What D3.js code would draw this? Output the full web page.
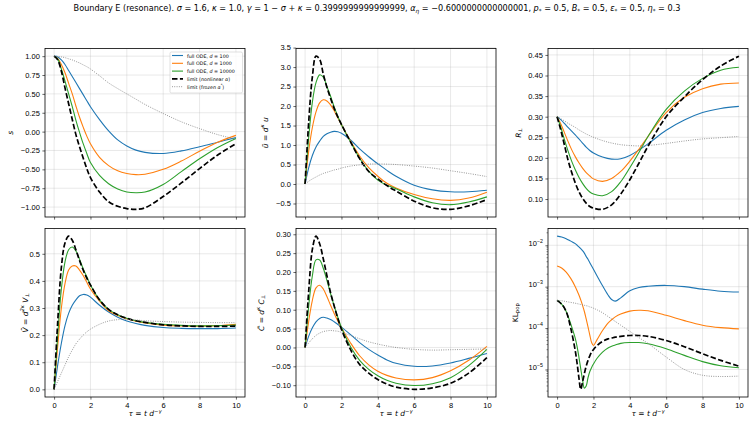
<!DOCTYPE html>
<html>
<head>
<meta charset="utf-8">
<script src="https://cdn.jsdelivr.net/npm/d3@7"></script>
<style>
  body { margin: 0; background: #fff; }
  svg { display: block; font-family: "DejaVu Sans", sans-serif; }
</style>
</head>
<body>
<svg id="chart" width="754" height="426"></svg>
<script>
// time grids
const TAU = [0, 0.2, 0.4, 0.6, 0.8, 1, 1.2, 1.4, 1.6, 1.8, 2, 2.5, 3, 3.5, 4, 4.5, 5, 6, 7, 8, 9, 10];
const TAU_KL = [0, 0.25, 0.5, 0.75, 1, 1.1, 1.2, 1.3, 1.4, 1.5, 1.6, 1.7, 1.8, 1.9, 2, 2.2, 2.5, 2.8, 3, 3.2, 3.5, 4, 4.5, 5, 6, 7, 8, 9, 10];

const SERIES_LABELS = ["d100", "d1000", "d10000", "nonlinear", "frozen"];

// s
const S_D100   = [1.0, 0.99, 0.95, 0.89, 0.81, 0.73, 0.65, 0.57, 0.49, 0.41, 0.33, 0.16, 0.01, -0.11, -0.19, -0.245, -0.275, -0.29, -0.255, -0.2, -0.14, -0.08];
const S_D1000  = [1.0, 0.97, 0.89, 0.78, 0.64, 0.5, 0.34, 0.19, 0.06, -0.06, -0.16, -0.34, -0.45, -0.52, -0.555, -0.57, -0.565, -0.5, -0.39, -0.26, -0.14, -0.05];
const S_D10000 = [1.0, 0.96, 0.83, 0.67, 0.5, 0.33, 0.15, -0.01, -0.16, -0.29, -0.41, -0.58, -0.69, -0.76, -0.8, -0.81, -0.8, -0.7, -0.53, -0.36, -0.21, -0.09];
const S_NONLIN = [1.0, 0.95, 0.8, 0.58, 0.37, 0.16, -0.04, -0.2, -0.35, -0.49, -0.61, -0.8, -0.93, -0.99, -1.02, -1.03, -1.01, -0.86, -0.68, -0.49, -0.31, -0.16];
const S_FROZEN = [1.0, 0.998, 0.99, 0.98, 0.965, 0.95, 0.93, 0.91, 0.885, 0.86, 0.83, 0.74, 0.645, 0.57, 0.5, 0.43, 0.36, 0.24, 0.13, 0.04, -0.04, -0.1];

// u tilde
const U_D100   = [0, 0.42, 0.73, 0.95, 1.1, 1.22, 1.29, 1.33, 1.35, 1.34, 1.3, 1.13, 0.9, 0.7, 0.52, 0.35, 0.2, -0.03, -0.15, -0.2, -0.2, -0.16];
const U_D1000  = [0, 0.85, 1.45, 1.85, 2.08, 2.16, 2.13, 2.03, 1.88, 1.7, 1.52, 1.1, 0.72, 0.42, 0.2, 0.02, -0.1, -0.27, -0.38, -0.42, -0.36, -0.21];
const U_D10000 = [0, 1.2, 2.1, 2.6, 2.8, 2.74, 2.5, 2.25, 1.98, 1.74, 1.52, 1.08, 0.66, 0.33, 0.1, -0.03, -0.12, -0.33, -0.48, -0.53, -0.46, -0.33];
const U_NONLIN = [0, 1.6, 2.75, 3.28, 3.2, 2.82, 2.48, 2.2, 1.94, 1.72, 1.53, 1.08, 0.65, 0.32, 0.13, -0.04, -0.18, -0.44, -0.61, -0.65, -0.56, -0.4];
const U_FROZEN = [0, 0.07, 0.13, 0.18, 0.23, 0.27, 0.3, 0.33, 0.36, 0.38, 0.41, 0.46, 0.49, 0.51, 0.515, 0.51, 0.5, 0.46, 0.41, 0.34, 0.27, 0.19];

// R perp
const R_D100   = [0.3, 0.293, 0.284, 0.274, 0.265, 0.256, 0.246, 0.236, 0.226, 0.218, 0.212, 0.202, 0.197, 0.198, 0.206, 0.219, 0.234, 0.267, 0.292, 0.31, 0.32, 0.325];
const R_D1000  = [0.3, 0.283, 0.262, 0.24, 0.22, 0.203, 0.188, 0.175, 0.164, 0.156, 0.149, 0.143, 0.15, 0.167, 0.192, 0.221, 0.252, 0.31, 0.347, 0.368, 0.379, 0.382];
const R_D10000 = [0.3, 0.275, 0.245, 0.217, 0.192, 0.171, 0.153, 0.138, 0.126, 0.117, 0.112, 0.108, 0.118, 0.142, 0.176, 0.213, 0.252, 0.318, 0.362, 0.393, 0.413, 0.42];
const R_NONLIN = [0.3, 0.268, 0.232, 0.195, 0.165, 0.139, 0.118, 0.102, 0.09, 0.082, 0.078, 0.075, 0.086, 0.112, 0.147, 0.187, 0.228, 0.3, 0.348, 0.39, 0.423, 0.447];
const R_FROZEN = [0.3, 0.295, 0.29, 0.284, 0.279, 0.274, 0.268, 0.263, 0.258, 0.254, 0.25, 0.242, 0.236, 0.232, 0.23, 0.229, 0.23, 0.235, 0.241, 0.246, 0.249, 0.252];

// V tilde
const V_D100   = [0, 0.09, 0.17, 0.235, 0.28, 0.31, 0.33, 0.345, 0.35, 0.348, 0.34, 0.31, 0.285, 0.266, 0.252, 0.243, 0.236, 0.228, 0.225, 0.224, 0.224, 0.226];
const V_D1000  = [0, 0.16, 0.3, 0.39, 0.44, 0.455, 0.455, 0.44, 0.42, 0.395, 0.37, 0.325, 0.29, 0.272, 0.26, 0.251, 0.245, 0.237, 0.234, 0.233, 0.235, 0.24];
const V_D10000 = [0, 0.2, 0.37, 0.47, 0.515, 0.525, 0.51, 0.48, 0.445, 0.415, 0.385, 0.33, 0.295, 0.275, 0.262, 0.253, 0.247, 0.24, 0.236, 0.234, 0.235, 0.237];
const V_NONLIN = [0, 0.25, 0.45, 0.54, 0.565, 0.55, 0.515, 0.475, 0.44, 0.41, 0.385, 0.33, 0.295, 0.275, 0.262, 0.253, 0.247, 0.238, 0.234, 0.232, 0.232, 0.233];
const V_FROZEN = [0, 0.03, 0.06, 0.09, 0.12, 0.145, 0.168, 0.185, 0.2, 0.212, 0.222, 0.24, 0.252, 0.257, 0.258, 0.256, 0.253, 0.25, 0.248, 0.247, 0.246, 0.246];

// C tilde
const C_D100   = [0, 0.03, 0.052, 0.068, 0.077, 0.08, 0.078, 0.074, 0.068, 0.061, 0.054, 0.034, 0.013, -0.005, -0.02, -0.033, -0.042, -0.05, -0.049, -0.041, -0.029, -0.016];
const C_D1000  = [0, 0.07, 0.125, 0.158, 0.165, 0.155, 0.135, 0.112, 0.09, 0.07, 0.052, 0.012, -0.022, -0.046, -0.063, -0.074, -0.081, -0.086, -0.08, -0.062, -0.034, 0.003];
const C_D10000 = [0, 0.11, 0.19, 0.232, 0.232, 0.21, 0.178, 0.143, 0.11, 0.08, 0.053, 0.002, -0.034, -0.058, -0.075, -0.087, -0.095, -0.101, -0.096, -0.08, -0.048, -0.005];
const C_NONLIN = [0, 0.15, 0.26, 0.295, 0.275, 0.235, 0.19, 0.145, 0.11, 0.077, 0.048, -0.006, -0.045, -0.068, -0.085, -0.097, -0.105, -0.111, -0.107, -0.095, -0.068, -0.027];
const C_FROZEN = [0, 0.012, 0.023, 0.032, 0.038, 0.042, 0.044, 0.045, 0.044, 0.043, 0.04, 0.032, 0.023, 0.015, 0.009, 0.004, 0, -0.005, -0.007, -0.006, -0.005, -0.004];

// KL_pop, read as log10 of the value
const KL_D100   = [-1.78, -1.8, -1.84, -1.9, -1.96, -2.0, -2.04, -2.08, -2.13, -2.19, -2.27, -2.34, -2.42, -2.5, -2.58, -2.74, -2.98, -3.2, -3.31, -3.35, -3.27, -3.1, -3.02, -2.99, -2.97, -3.0, -3.06, -3.11, -3.13];
const KL_D1000  = [-2.5, -2.55, -2.65, -2.8, -3.0, -3.1, -3.2, -3.32, -3.45, -3.6, -3.78, -3.97, -4.17, -4.35, -4.42, -4.28, -4.06, -3.88, -3.8, -3.73, -3.66, -3.59, -3.57, -3.58, -3.69, -3.82, -3.93, -3.99, -4.02];
const KL_D10000 = [-3.33, -3.42, -3.6, -3.9, -4.25, -4.45, -4.7, -4.98, -5.25, -5.45, -5.4, -5.2, -5.05, -4.95, -4.87, -4.73, -4.58, -4.48, -4.44, -4.41, -4.37, -4.35, -4.35, -4.38, -4.5, -4.66, -4.81, -4.91, -4.96];
const KL_NONLIN = [-3.33, -3.42, -3.6, -4.0, -4.55, -4.85, -5.2, -5.48, -5.3, -5.1, -4.92, -4.78, -4.67, -4.58, -4.52, -4.42, -4.32, -4.26, -4.24, -4.22, -4.2, -4.18, -4.18, -4.2, -4.3, -4.45, -4.62, -4.78, -4.92];
const KL_FROZEN = [-3.33, -3.34, -3.36, -3.38, -3.4, -3.41, -3.42, -3.43, -3.44, -3.45, -3.46, -3.47, -3.49, -3.5, -3.52, -3.56, -3.63, -3.72, -3.78, -3.84, -3.93, -4.08, -4.23, -4.37, -4.7, -5.0, -5.14, -5.17, -5.16];

// ticks
const X_TICKS = [0, 2, 4, 6, 8, 10];
const S_TICKS = [-1.0, -0.75, -0.5, -0.25, 0, 0.25, 0.5, 0.75, 1.0];
const U_TICKS = [-0.5, 0, 0.5, 1.0, 1.5, 2.0, 2.5, 3.0, 3.5];
const R_TICKS = [0.10, 0.15, 0.20, 0.25, 0.30, 0.35, 0.40, 0.45];
const V_TICKS = [0, 0.1, 0.2, 0.3, 0.4, 0.5];
const C_TICKS = [-0.10, -0.05, 0, 0.05, 0.10, 0.15, 0.20, 0.25, 0.30];
const KL_TICKS = [1e-5, 1e-4, 1e-3, 1e-2];

const colors = ["#1f77b4", "#ff7f0e", "#2ca02c", "#000000", "#808080"];
const styles = [
  { w: 1.1, dash: null },
  { w: 1.1, dash: null },
  { w: 1.1, dash: null },
  { w: 1.7, dash: "5.5,2.4" },
  { w: 0.9, dash: "0.9,1.4" }
];

const svg = d3.select("#chart");
const W = 754, H = 426;
svg.append("rect").attr("width", W).attr("height", H).attr("fill", "#fff");

// rich text helper: parts = [{t, i, sup, sub}]
function rich(sel, parts, size) {
  let off = 0;
  parts.forEach(p => {
    const target = p.sup ? -0.36 * size : p.sub ? 0.2 * size : 0;
    sel.append("tspan")
      .text(p.t)
      .attr("dy", target - off)
      .style("font-size", (p.sup || p.sub ? size * 0.7 : size) + "px")
      .style("font-style", p.i ? "italic" : "normal");
    off = target;
  });
}

const fmt = d => d.replace("-", "\u2212");

const cols = [45, 296, 548];
const rows = [48.5, 228.5];
const AW = 200, AH = [168.5, 168.5];

const panels = [
  { c: 0, r: 0, tau: TAU, ys: [S_D100, S_D1000, S_D10000, S_NONLIN, S_FROZEN], ticks: S_TICKS, f: d3.format(".2f"),
    label: [{ t: "s", i: true }], lx: 10, legend: true },
  { c: 1, r: 0, tau: TAU, ys: [U_D100, U_D1000, U_D10000, U_NONLIN, U_FROZEN], ticks: U_TICKS, f: d3.format(".1f"),
    label: [{ t: "u\u0303", i: true }, { t: " = " }, { t: "d", i: true }, { t: "\u03ba", i: true, sup: true }, { t: " " }, { t: "u", i: true }], lx: 265 },
  { c: 2, r: 0, tau: TAU, ys: [R_D100, R_D1000, R_D10000, R_NONLIN, R_FROZEN], ticks: R_TICKS, f: d3.format(".2f"),
    label: [{ t: "R", i: true }, { t: "\u22a5", sub: true }], lx: 518 },
  { c: 0, r: 1, tau: TAU, ys: [V_D100, V_D1000, V_D10000, V_NONLIN, V_FROZEN], ticks: V_TICKS, f: d3.format(".1f"),
    label: [{ t: "V\u0303", i: true }, { t: " = " }, { t: "d", i: true }, { t: "2\u03ba", i: true, sup: true }, { t: " " }, { t: "V", i: true }, { t: "\u22a5", sub: true }], lx: 25 },
  { c: 1, r: 1, tau: TAU, ys: [C_D100, C_D1000, C_D10000, C_NONLIN, C_FROZEN], ticks: C_TICKS, f: d3.format(".2f"),
    label: [{ t: "C\u0303", i: true }, { t: " = " }, { t: "d", i: true }, { t: "\u03ba", i: true, sup: true }, { t: " " }, { t: "C", i: true }, { t: "\u22a5", sub: true }], lx: 261 },
  { c: 2, r: 1, tau: TAU_KL, ys: [KL_D100, KL_D1000, KL_D10000, KL_NONLIN, KL_FROZEN], ticks: KL_TICKS, log: true,
    label: [{ t: "KL" }, { t: "pop", sub: true }], lx: 515 }
];

const TICK = 2.6, PAD = 2.6, FS = 7.5;

panels.forEach(p => {
  const x0 = cols[p.c], y0 = rows[p.r], h = AH[p.r];
  const x = d3.scaleLinear().domain([-0.5, 10.5]).range([x0, x0 + AW]);
  const all = p.ys.flat();
  let lo = d3.min(all), hi = d3.max(all);
  const m = (hi - lo) * 0.05;
  lo -= m; hi += m;
  let y;
  if (p.log) {
    y = d3.scaleLog().domain([Math.pow(10, lo), Math.pow(10, hi)]).range([y0 + h, y0]);
  } else {
    y = d3.scaleLinear().domain([lo, hi]).range([y0 + h, y0]);
  }
  const g = svg.append("g");

  // grid
  g.selectAll(".gx").data(X_TICKS).join("line")
    .attr("x1", d => x(d)).attr("x2", d => x(d)).attr("y1", y0).attr("y2", y0 + h)
    .attr("stroke", "#b0b0b0").attr("stroke-opacity", 0.35).attr("stroke-width", 0.8);
  g.selectAll(".gy").data(p.ticks).join("line")
    .attr("x1", x0).attr("x2", x0 + AW).attr("y1", d => y(d)).attr("y2", d => y(d))
    .attr("stroke", "#b0b0b0").attr("stroke-opacity", 0.35).attr("stroke-width", 0.8);

  // lines
  const line = d3.line()
    .x((d, i) => x(p.tau[i]))
    .y(d => p.log ? y(Math.pow(10, d)) : y(d))
    .curve(d3.curveCatmullRom.alpha(0.5));
  p.ys.forEach((arr, k) => {
    g.append("path").datum(arr)
      .attr("d", line)
      .attr("fill", "none")
      .attr("stroke", colors[k])
      .attr("stroke-width", styles[k].w)
      .attr("stroke-dasharray", styles[k].dash)
      .attr("stroke-linejoin", "round");
  });

  // y axis
  const ya = d3.axisLeft(y).tickValues(p.ticks).tickSize(TICK).tickPadding(PAD);
  if (p.log) ya.tickFormat(() => "");
  else ya.tickFormat(d => fmt(p.f(d)));
  const yg = g.append("g").attr("transform", `translate(${x0},0)`).call(ya);
  yg.select(".domain").remove();
  yg.selectAll("text").style("font-size", FS + "px").attr("fill", "#000");
  yg.selectAll("line").attr("stroke", "#000").attr("stroke-width", 0.6);

  if (p.log) {
    // minor ticks
    const minors = [];
    const dLo = y.domain()[0], dHi = y.domain()[1];
    for (let e = -7; e <= 0; e++) {
      for (let k = 2; k <= 9; k++) {
        const v = k * Math.pow(10, e);
        if (v >= dLo && v <= dHi) minors.push(v);
      }
    }
    g.selectAll(".mn").data(minors).join("line")
      .attr("x1", x0 - 1.5).attr("x2", x0).attr("y1", d => y(d)).attr("y2", d => y(d))
      .attr("stroke", "#000").attr("stroke-width", 0.45);
    yg.selectAll(".tick").each(function (d) {
      const t = d3.select(this).select("text").text(null);
      const e = Math.round(Math.log10(d));
      rich(t, [{ t: "10" }, { t: "\u2212" + Math.abs(e), sup: true }], FS);
    });
  }

  // x axis
  const xa = d3.axisBottom(x).tickValues(X_TICKS).tickSize(TICK).tickPadding(PAD)
    .tickFormat(p.r === 1 ? d3.format("d") : () => "");
  const xg = g.append("g").attr("transform", `translate(0,${y0 + h})`).call(xa);
  xg.select(".domain").remove();
  xg.selectAll("text").style("font-size", FS + "px").attr("fill", "#000");
  xg.selectAll("line").attr("stroke", "#000").attr("stroke-width", 0.6);

  // spines
  g.append("rect").attr("x", x0).attr("y", y0).attr("width", AW).attr("height", h)
    .attr("fill", "none").attr("stroke", "#000").attr("stroke-width", 0.8);

  // y label
  const ly = y0 + h / 2;
  const lt = g.append("text")
    .attr("transform", `translate(${p.lx},${ly}) rotate(-90)`)
    .attr("text-anchor", "middle")
    .attr("dominant-baseline", "central")
    .attr("fill", "#000");
  rich(lt, p.label, FS);

  // x label
  if (p.r === 1) {
    const xt = g.append("text")
      .attr("x", x0 + AW / 2).attr("y", 416)
      .attr("text-anchor", "middle").attr("fill", "#000");
    rich(xt, [{ t: "\u03c4", i: true }, { t: " = " }, { t: "t", i: true }, { t: " " }, { t: "d", i: true }, { t: "\u2212\u03b3", i: true, sup: true }], FS);
  }

  // legend
  if (p.legend) {
    const lg = g.append("g");
    lg.append("rect").attr("x", 170).attr("y", 52).attr("width", 72.5).attr("height", 41)
      .attr("rx", 1.5).attr("fill", "#fff").attr("fill-opacity", 0.8)
      .attr("stroke", "#cccccc").attr("stroke-width", 0.6);
    const labels = [
      [{ t: "full ODE, " }, { t: "d", i: true }, { t: " = 100" }],
      [{ t: "full ODE, " }, { t: "d", i: true }, { t: " = 1000" }],
      [{ t: "full ODE, " }, { t: "d", i: true }, { t: " = 10000" }],
      [{ t: "limit (nonlinear " }, { t: "\u03b1", i: true }, { t: ")" }],
      [{ t: "limit (frozen " }, { t: "\u03b1", i: true }, { t: "*", sup: true }, { t: ")" }]
    ];
    SERIES_LABELS.forEach((name, k) => {
      const yy = 55.5 + k * 7.8;
      lg.append("line").attr("x1", 172).attr("x2", 183).attr("y1", yy).attr("y2", yy)
        .attr("stroke", colors[k]).attr("stroke-width", styles[k].w)
        .attr("stroke-dasharray", styles[k].dash);
      const tt = lg.append("text").attr("x", 187).attr("y", yy).attr("dominant-baseline", "central").attr("fill", "#000");
      rich(tt, labels[k], 4.8);
    });
  }
});

// title
const title = svg.append("text").attr("x", 377).attr("y", 11).attr("text-anchor", "middle").attr("fill", "#000");
rich(title, [
  { t: "Boundary E (resonance).  " },
  { t: "\u03c3", i: true }, { t: " = 1.6, " },
  { t: "\u03ba", i: true }, { t: " = 1.0, " },
  { t: "\u03b3", i: true }, { t: " = 1 \u2212 " }, { t: "\u03c3", i: true }, { t: " + " }, { t: "\u03ba", i: true },
  { t: " = 0.3999999999999999, " },
  { t: "\u03b1", i: true }, { t: "\u03b7", i: true, sub: true }, { t: " = \u22120.6000000000000001,  " },
  { t: "p", i: true }, { t: "*", sub: true }, { t: " = 0.5, " },
  { t: "B", i: true }, { t: "*", sub: true }, { t: " = 0.5, " },
  { t: "\u03b5", i: true }, { t: "*", sub: true }, { t: " = 0.5, " },
  { t: "\u03b7", i: true }, { t: "*", sub: true }, { t: " = 0.3" }
], 8.15);
</script>
</body>
</html>
